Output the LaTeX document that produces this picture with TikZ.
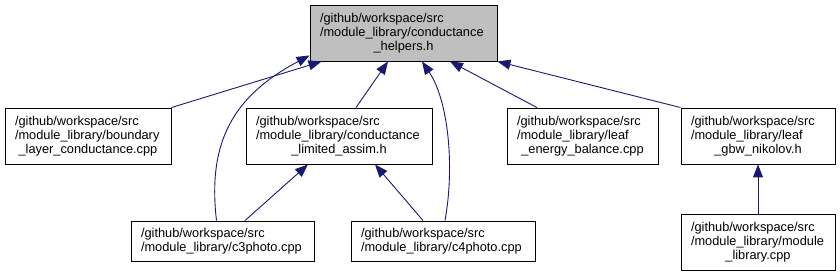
\documentclass[tikz,border=0pt]{standalone}
\usepackage{fontspec}
\setmainfont{Liberation Sans}
\usetikzlibrary{arrows.meta}
\definecolor{edgeblue}{HTML}{191970}
\definecolor{focusgrey}{HTML}{BFBFBF}
\newcommand{\lastln}[1]{\makebox[\linewidth][c]{#1}}

\begin{document}
\begin{tikzpicture}[
    x=1pt, y=-1pt,
    file/.style={draw, line width=0.9pt, text width=#1, inner xsep=10pt, inner ysep=0pt, align=left, font=\fontsize{12.8}{14}\selectfont},
    tall/.style={minimum height=56pt},
    short/.style={minimum height=40pt},
    incl/.style={-{Triangle[length=13pt, width=10pt]}, line width=0.9pt, edgeblue},
]
    \useasboundingbox (0,0) rectangle (840,275);

    % Documented header
    \node[file=167pt, tall, fill=focusgrey] (helpers) at (403.5,33) {/github/workspace/src\\/module\_library/conductance\\\lastln{\_helpers.h}};

    % Direct includers
    \node[file=146pt, tall] (boundary) at (88,136) {/github/workspace/src\\/module\_library/boundary\\\lastln{\_layer\_conductance.cpp}};
    \node[file=166pt, tall] (limited) at (339,136) {/github/workspace/src\\/module\_library/conductance\\\lastln{\_limited\_assim.h}};
    \node[file=131pt, tall] (energy) at (582.5,136) {/github/workspace/src\\/module\_library/leaf\\\lastln{\_energy\_balance.cpp}};
    \node[file=134pt, tall] (gbw) at (758,136) {/github/workspace/src\\/module\_library/leaf\\\lastln{\_gbw\_nikolov.h}};

    % Second level
    \node[file=163pt, short] (cthree) at (222.5,241) {/github/workspace/src\\/module\_library/c3photo.cpp};
    \node[file=164pt, short] (cfour) at (443,241) {/github/workspace/src\\/module\_library/c4photo.cpp};
    \node[file=134pt, tall] (modlib) at (758,242) {/github/workspace/src\\/module\_library/module\\\lastln{\_library.cpp}};

    % Include edges
    \draw[incl] (boundary.north east) -- ([xshift=12pt]helpers.south west);
    \draw[incl] ([xshift=-6pt]cthree.north) .. controls (207,140) and (235,95) .. ([yshift=6pt]helpers.south west);
    \draw[incl] ([xshift=17pt]limited.north) -- ([xshift=-15.5pt]helpers.south);
    \draw[incl] ([xshift=2pt]cfour.north) .. controls (455,165) and (448,100) .. ([xshift=18.5pt]helpers.south);
    \draw[incl] ([xshift=-45.5pt]energy.north) -- ([xshift=46.5pt]helpers.south);
    \draw[incl] (gbw.north west) -- (helpers.south east);
    \draw[incl] ([xshift=22.5pt]cthree.north) -- ([xshift=-31pt]limited.south);
    \draw[incl] ([xshift=-20pt]cfour.north) -- ([xshift=36pt]limited.south);
    \draw[incl] (modlib) -- (gbw);

\end{tikzpicture}
\end{document}
